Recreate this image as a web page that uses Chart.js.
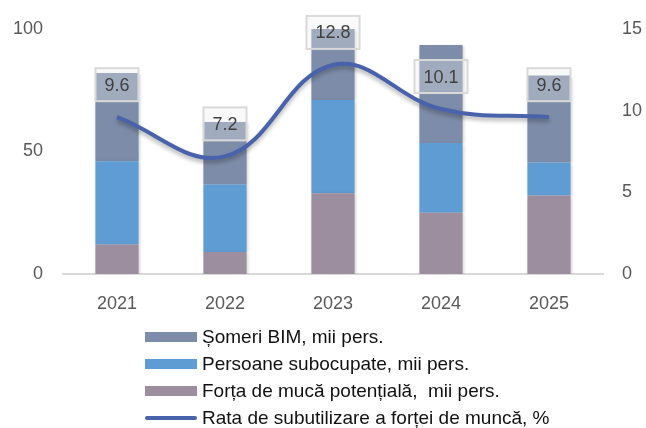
<!DOCTYPE html>
<html>
<head>
<meta charset="utf-8">
<script src="https://cdn.jsdelivr.net/npm/chart.js@4"></script>
<style>
    html, body { margin: 0; padding: 0; background: #fff; }
    #wrap { position: relative; width: 646px; height: 428px; }
    #legend {
        position: absolute; left: 145px; top: 323px;
        font-family: 'Liberation Sans', Arial, sans-serif; font-size: 19px; color: #111;
    }
    .item { display: flex; align-items: center; height: 27px; white-space: pre; }
    .swatch { width: 52px; margin-right: 5px; }
</style>
</head>
<body>
<div id="wrap">
    <canvas id="chart" width="646" height="428"></canvas>
    <div id="legend"></div>
</div>
<script>
// ani
const years = ['2021', '2022', '2023', '2024', '2025'];
// mii persoane, pe componente
const someriBIM = [36, 25.5, 29, 40, 35.5];
const persoaneSubocupate = [34, 27.5, 38, 28.5, 13.5];
const fortaPotentiala = [12, 9, 33, 25, 32];
// rata, %
const rataSubutilizare = [9.6, 7.2, 12.8, 10.1, 9.6];

const leftTicks = [0, 50, 100];
const rightTicks = [0, 5, 10, 15];

const colors = {
    someri: '#7d8ca8',
    subocupate: '#5e9cd3',
    forta: '#9d8e9f',
    rata: '#4862ab'
};

const tickFont = { family: "'Liberation Sans', Arial, sans-serif", size: 18 };
const tickColor = '#595959';

// umbra discreta sub bare si linie
const shadowPlugin = {
    id: 'shadow',
    beforeDatasetDraw(chart, args) {
        const ctx = chart.ctx;
        ctx.save();
        if (args.meta.type === 'line') {
            ctx.shadowColor = 'rgba(0,0,0,0.3)';
            ctx.shadowBlur = 4;
            ctx.shadowOffsetY = 3;
        } else {
            ctx.shadowColor = 'rgba(0,0,0,0.18)';
            ctx.shadowBlur = 3;
            ctx.shadowOffsetX = 1;
            ctx.shadowOffsetY = 1;
        }
    },
    afterDatasetDraw(chart) {
        chart.ctx.restore();
    }
};

// etichete cu valoarea ratei, in chenar
const rateLabels = {
    id: 'rateLabels',
    afterDatasetsDraw(chart) {
        const ctx = chart.ctx;
        const idx = chart.data.datasets.findIndex(d => d.type === 'line');
        const meta = chart.getDatasetMeta(idx);
        ctx.save();
        ctx.font = "18px 'Liberation Sans', Arial, sans-serif";
        ctx.textAlign = 'center';
        ctx.textBaseline = 'middle';
        meta.data.forEach((pt, i) => {
            const txt = rataSubutilizare[i].toFixed(1);
            const w = ctx.measureText(txt).width + 18;
            const h = 33;
            const x = pt.x - w / 2;
            const y = pt.y - 16 - h;
            ctx.save();
            ctx.shadowColor = 'rgba(0,0,0,0.12)';
            ctx.shadowBlur = 2;
            ctx.fillStyle = 'rgba(255,255,255,0.3)';
            ctx.fillRect(x, y, w, h);
            ctx.restore();
            ctx.strokeStyle = '#d9d9d9';
            ctx.lineWidth = 2;
            ctx.strokeRect(x, y, w, h);
            ctx.fillStyle = '#404040';
            ctx.fillText(txt, pt.x, y + h / 2 + 1);
        });
        ctx.restore();
    }
};

const chart = new Chart(document.getElementById('chart'), {
    data: {
        labels: years,
        datasets: [
            {
                type: 'line',
                label: 'Rata de subutilizare a forței de muncă, %',
                data: rataSubutilizare,
                yAxisID: 'y1',
                borderColor: colors.rata,
                borderWidth: 4,
                tension: 0.4,
                pointRadius: 0,
                order: 0
            },
            {
                type: 'bar',
                label: 'Forța de mucă potențială,  mii pers.',
                data: fortaPotentiala,
                backgroundColor: colors.forta,
                stack: 's',
                order: 1
            },
            {
                type: 'bar',
                label: 'Persoane subocupate, mii pers.',
                data: persoaneSubocupate,
                backgroundColor: colors.subocupate,
                stack: 's',
                order: 1
            },
            {
                type: 'bar',
                label: 'Șomeri BIM, mii pers.',
                data: someriBIM,
                backgroundColor: colors.someri,
                stack: 's',
                order: 1
            }
        ]
    },
    options: {
        responsive: false,
        animation: false,
        datasets: { bar: { barPercentage: 0.4, categoryPercentage: 1 } },
        layout: { padding: { top: 29, bottom: 114, left: 0, right: 0 } },
        plugins: {
            legend: { display: false },
            tooltip: { enabled: false }
        },
        scales: {
            x: {
                stacked: true,
                grid: { display: false },
                border: { color: '#d9d9d9', width: 2 },
                ticks: { font: tickFont, color: tickColor, padding: 11 },
                afterFit(scale) { scale.height = 40; }
            },
            y: {
                stacked: true,
                position: 'left',
                min: 0,
                max: 100,
                grid: { display: false },
                border: { display: false },
                afterBuildTicks(scale) { scale.ticks = leftTicks.map(v => ({ value: v })); },
                ticks: { font: tickFont, color: tickColor, padding: 12 },
                afterFit(scale) { scale.width = 63; }
            },
            y1: {
                position: 'right',
                min: 0,
                max: 15,
                grid: { display: false },
                border: { display: false },
                afterBuildTicks(scale) { scale.ticks = rightTicks.map(v => ({ value: v })); },
                ticks: { font: tickFont, color: tickColor, padding: 11 },
                afterFit(scale) { scale.width = 43; }
            }
        }
    },
    plugins: [shadowPlugin, rateLabels]
});

// legenda pe o coloana: somerii primii, linia la final
const legendOrder = [3, 2, 1, 0];
const legend = document.getElementById('legend');
legendOrder.forEach(i => {
    const ds = chart.data.datasets[i];
    const row = document.createElement('div');
    row.className = 'item';
    const sw = document.createElement('span');
    sw.className = 'swatch';
    if (ds.type === 'line') {
        sw.style.height = '4px';
        sw.style.borderRadius = '2px';
        sw.style.background = ds.borderColor;
    } else {
        sw.style.height = '10px';
        sw.style.background = ds.backgroundColor;
    }
    const txt = document.createElement('span');
    txt.textContent = ds.label;
    row.appendChild(sw);
    row.appendChild(txt);
    legend.appendChild(row);
});
</script>
</body>
</html>
